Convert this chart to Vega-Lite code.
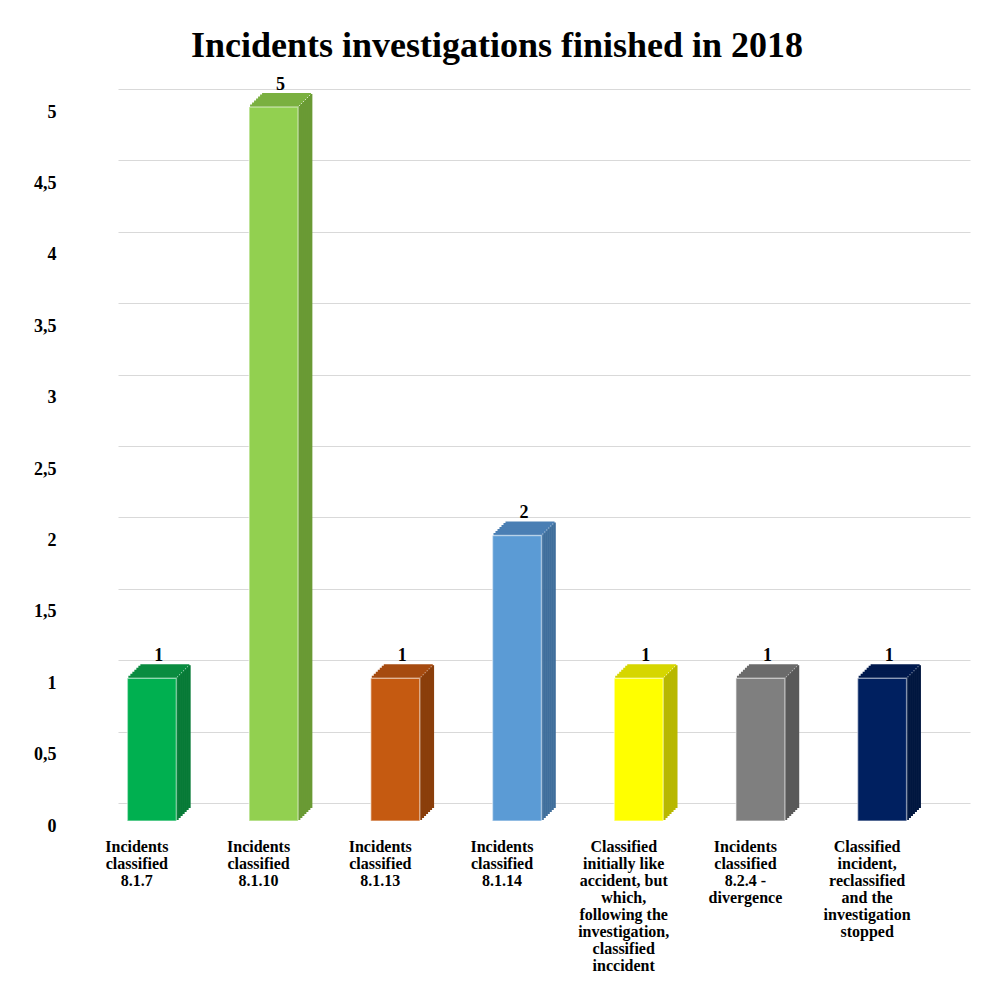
{
  "$schema": "https://vega.github.io/schema/vega-lite/v6.json",
  "width": 852,
  "height": 714,
  "autosize": "none",
  "padding": {"left": 118, "top": 89, "right": 20, "bottom": 183},
  "background": "white",
  "config": {"view": {"stroke": null}, "font": "Liberation Serif"},
  "title": {"text": "Incidents investigations finished in 2018", "font": "Liberation Serif", "fontSize": 36, "fontWeight": "bold", "color": "#000000", "anchor": "middle", "dx": -47, "offset": 11},
  "data": {"values": [
    {"category": "Incidents\nclassified\n8.1.7", "value": 1},
    {"category": "Incidents\nclassified\n8.1.10", "value": 5},
    {"category": "Incidents\nclassified\n8.1.13", "value": 1},
    {"category": "Incidents\nclassified\n8.1.14", "value": 2},
    {"category": "Classified\ninitially like\naccident, but\nwhich,\nfollowing the\ninvestigation,\nclassified\ninccident", "value": 1},
    {"category": "Incidents\nclassified\n8.2.4 -\ndivergence", "value": 1},
    {"category": "Classified\nincident,\nreclassified\nand the\ninvestigation\nstopped", "value": 1}
  ]},
  "encoding": {
    "x": {"field": "category", "type": "nominal", "sort": null, "scale": {"paddingInner": 0, "paddingOuter": 0},
      "axis": {"title": null, "domain": false, "ticks": false, "tickSize": 0, "grid": false, "labelAngle": 0, "labelAlign": "center", "labelBaseline": "top", "labelPadding": 35, "labelOffset": -42, "labelFont": "Liberation Serif", "labelFontSize": 16, "labelFontWeight": "bold", "labelColor": "#000000", "labelLineHeight": 17, "labelLimit": 300, "labelOverlap": false, "labelExpr": "split(datum.label, '\\n')"}},
    "y": {"field": "value", "type": "quantitative", "scale": {"domain": [0, 5], "nice": false, "zero": true},
      "axis": {"title": null, "domain": false, "ticks": false, "tickSize": 0, "grid": true, "gridColor": "#D9D9D9", "gridWidth": 1, "values": [0, 0.5, 1, 1.5, 2, 2.5, 3, 3.5, 4, 4.5, 5], "labelPadding": 62, "labelOffset": 23, "labelFont": "Liberation Serif", "labelFontSize": 18, "labelFontWeight": "bold", "labelColor": "#000000", "labelOverlap": false, "labelExpr": "replace(toString(datum.value), '.', ',')"}}
  },
  "layer": [
    {"mark": {"type": "bar", "width": 2.6, "xOffset": -1.5, "yOffset": 17, "y2Offset": 17}, "encoding": {"y2": {"datum": 0}, "color": {"field": "category", "type": "nominal", "sort": null, "legend": null, "scale": {"range": ["#067A36", "#6A9A34", "#8A3E0B", "#3F6E9C", "#B8B800", "#595959", "#00163F"]}}}},
    {"mark": {"type": "bar", "width": 2.6, "xOffset": 0.5, "yOffset": 15, "y2Offset": 15}, "encoding": {"y2": {"datum": 0}, "color": {"field": "category", "type": "nominal", "sort": null, "legend": null, "scale": {"range": ["#067A36", "#6A9A34", "#8A3E0B", "#3F6E9C", "#B8B800", "#595959", "#00163F"]}}}},
    {"mark": {"type": "bar", "width": 2.6, "xOffset": 2.5, "yOffset": 13, "y2Offset": 13}, "encoding": {"y2": {"datum": 0}, "color": {"field": "category", "type": "nominal", "sort": null, "legend": null, "scale": {"range": ["#067A36", "#6A9A34", "#8A3E0B", "#3F6E9C", "#B8B800", "#595959", "#00163F"]}}}},
    {"mark": {"type": "bar", "width": 2.6, "xOffset": 4.5, "yOffset": 11, "y2Offset": 11}, "encoding": {"y2": {"datum": 0}, "color": {"field": "category", "type": "nominal", "sort": null, "legend": null, "scale": {"range": ["#067A36", "#6A9A34", "#8A3E0B", "#3F6E9C", "#B8B800", "#595959", "#00163F"]}}}},
    {"mark": {"type": "bar", "width": 2.6, "xOffset": 6.5, "yOffset": 9, "y2Offset": 9}, "encoding": {"y2": {"datum": 0}, "color": {"field": "category", "type": "nominal", "sort": null, "legend": null, "scale": {"range": ["#067A36", "#6A9A34", "#8A3E0B", "#3F6E9C", "#B8B800", "#595959", "#00163F"]}}}},
    {"mark": {"type": "bar", "width": 2.6, "xOffset": 8.5, "yOffset": 7, "y2Offset": 7}, "encoding": {"y2": {"datum": 0}, "color": {"field": "category", "type": "nominal", "sort": null, "legend": null, "scale": {"range": ["#067A36", "#6A9A34", "#8A3E0B", "#3F6E9C", "#B8B800", "#595959", "#00163F"]}}}},
    {"mark": {"type": "bar", "width": 2.6, "xOffset": 10.5, "yOffset": 5, "y2Offset": 5}, "encoding": {"y2": {"datum": 0}, "color": {"field": "category", "type": "nominal", "sort": null, "legend": null, "scale": {"range": ["#067A36", "#6A9A34", "#8A3E0B", "#3F6E9C", "#B8B800", "#595959", "#00163F"]}}}},
    {"mark": {"type": "bar", "width": 49, "xOffset": -26, "yOffset": 15.5, "y2Offset": 18}, "encoding": {"y2": {"field": "value"}, "color": {"field": "category", "type": "nominal", "sort": null, "legend": null, "scale": {"range": ["#0A8C40", "#7AB040", "#A64B10", "#4A7FB4", "#D6D600", "#6B6B6B", "#011A4E"]}}}},
    {"mark": {"type": "bar", "width": 49, "xOffset": -24, "yOffset": 13.5, "y2Offset": 16}, "encoding": {"y2": {"field": "value"}, "color": {"field": "category", "type": "nominal", "sort": null, "legend": null, "scale": {"range": ["#0A8C40", "#7AB040", "#A64B10", "#4A7FB4", "#D6D600", "#6B6B6B", "#011A4E"]}}}},
    {"mark": {"type": "bar", "width": 49, "xOffset": -22, "yOffset": 11.5, "y2Offset": 14}, "encoding": {"y2": {"field": "value"}, "color": {"field": "category", "type": "nominal", "sort": null, "legend": null, "scale": {"range": ["#0A8C40", "#7AB040", "#A64B10", "#4A7FB4", "#D6D600", "#6B6B6B", "#011A4E"]}}}},
    {"mark": {"type": "bar", "width": 49, "xOffset": -20, "yOffset": 9.5, "y2Offset": 12}, "encoding": {"y2": {"field": "value"}, "color": {"field": "category", "type": "nominal", "sort": null, "legend": null, "scale": {"range": ["#0A8C40", "#7AB040", "#A64B10", "#4A7FB4", "#D6D600", "#6B6B6B", "#011A4E"]}}}},
    {"mark": {"type": "bar", "width": 49, "xOffset": -18, "yOffset": 7.5, "y2Offset": 10}, "encoding": {"y2": {"field": "value"}, "color": {"field": "category", "type": "nominal", "sort": null, "legend": null, "scale": {"range": ["#0A8C40", "#7AB040", "#A64B10", "#4A7FB4", "#D6D600", "#6B6B6B", "#011A4E"]}}}},
    {"mark": {"type": "bar", "width": 49, "xOffset": -16, "yOffset": 5.5, "y2Offset": 8}, "encoding": {"y2": {"field": "value"}, "color": {"field": "category", "type": "nominal", "sort": null, "legend": null, "scale": {"range": ["#0A8C40", "#7AB040", "#A64B10", "#4A7FB4", "#D6D600", "#6B6B6B", "#011A4E"]}}}},
    {"mark": {"type": "bar", "width": 49, "xOffset": -14, "yOffset": 4, "y2Offset": 6}, "encoding": {"y2": {"field": "value"}, "color": {"field": "category", "type": "nominal", "sort": null, "legend": null, "scale": {"range": ["#0A8C40", "#7AB040", "#A64B10", "#4A7FB4", "#D6D600", "#6B6B6B", "#011A4E"]}}}},
    {"mark": {"type": "bar", "width": 49, "xOffset": -27, "yOffset": 18, "y2Offset": 18, "stroke": "#FFFFFF", "strokeOpacity": 0.45, "strokeWidth": 1.5}, "encoding": {"y2": {"datum": 0}, "color": {"field": "category", "type": "nominal", "sort": null, "legend": null, "scale": {"range": ["#00B050", "#92D050", "#C55A11", "#5B9BD5", "#FFFF00", "#7F7F7F", "#002060"]}}}},
    {"mark": {"type": "text", "xOffset": -20, "yOffset": 1, "baseline": "alphabetic", "align": "center", "font": "Liberation Serif", "fontSize": 18, "fontWeight": "bold", "color": "#000000"}, "encoding": {"text": {"field": "value", "type": "quantitative"}}}
  ],
  "resolve": {"scale": {"color": "independent"}}
}
